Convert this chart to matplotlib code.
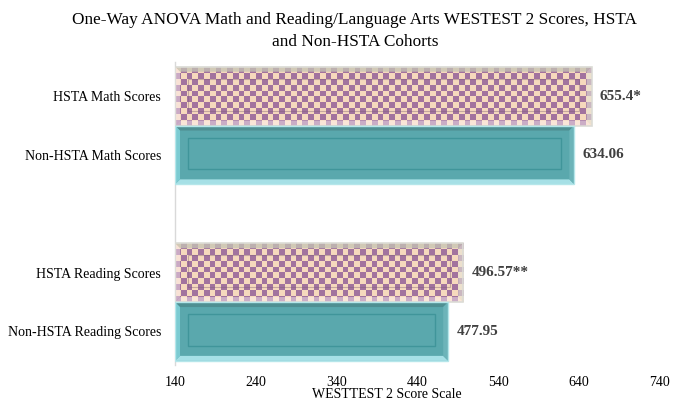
import numpy as np
import matplotlib
matplotlib.use("Agg")
import matplotlib.pyplot as plt
from matplotlib.colors import ListedColormap
from matplotlib.patches import Rectangle, Polygon

categories = ["HSTA Math Scores", "Non-HSTA Math Scores", "HSTA Reading Scores", "Non-HSTA Reading Scores"]
values = [655.4, 634.06, 496.57, 477.95]
value_labels = ["655.4*", "634.06", "496.57**", "477.95"]
is_hsta = [True, False, True, False]
positions = [0, 1, 3, 4]
xticks = [140, 240, 340, 440, 540, 640, 740]

title = "One-Way ANOVA Math and Reading/Language Arts WESTEST 2 Scores, HSTA\nand Non-HSTA Cohorts"
xlabel = "WESTTEST 2 Score Scale"

plt.rcParams['font.family'] = ['Liberation Serif', 'DejaVu Serif']

W, H = 673, 400
fig = plt.figure(figsize=(W / 100, H / 100), dpi=100)
ax = fig.add_axes([175 / W, 1 - 365 / H, (660 - 175) / W, (365 - 62) / H])

base = 140
xmin, xmax = 140, 740
ax.set_xlim(xmin, xmax)
ax.set_ylim(4.57, -0.58)

peach = "#f6d9bd"
purple = "#a2739e"
teal = "#5aa8ad"

bars = ax.barh(positions, [v - base for v in values], left=base, height=1.0,
               color=[peach if h else teal for h in is_hsta],
               edgecolor='none', linewidth=0, zorder=2)

fig.canvas.draw()


def bevel(x0, y0, w, hh, px, py, b, colors, alphas, z):
    bx, by = b * px, b * py
    x1, y1 = x0 + w, y0 + hh
    polys = {
        'top': [(x0, y0), (x1, y0), (x1 - bx, y0 + by), (x0 + bx, y0 + by)],
        'bottom': [(x0, y1), (x1, y1), (x1 - bx, y1 - by), (x0 + bx, y1 - by)],
        'left': [(x0, y0), (x0 + bx, y0 + by), (x0 + bx, y1 - by), (x0, y1)],
        'right': [(x1, y0), (x1 - bx, y0 + by), (x1 - bx, y1 - by), (x1, y1)],
    }
    for k, pts in polys.items():
        ax.add_patch(Polygon(pts, closed=True, facecolor=colors[k], edgecolor='none',
                             alpha=alphas[k], zorder=z))


cell = 5.8
for patch, h in zip(bars.patches, is_hsta):
    x0, y0 = patch.get_x(), patch.get_y()
    w, hh = patch.get_width(), patch.get_height()
    p0 = ax.transData.transform((x0, y0))
    p1 = ax.transData.transform((x0 + w, y0 + hh))
    wpx, hpx = abs(p1[0] - p0[0]), abs(p1[1] - p0[1])
    px, py = w / wpx, hh / hpx
    if h:
        nx = max(1, int(round(wpx / cell)))
        ny = max(1, int(round(hpx / cell)))
        board = (np.indices((ny, nx)).sum(axis=0) % 2)
        im = ax.imshow(board, cmap=ListedColormap([peach, purple]),
                       extent=(x0, x0 + w, y0 + hh, y0), aspect='auto',
                       interpolation='nearest', zorder=2.5)
        im.set_clip_path(patch)
        bevel(x0, y0, w, hh, px, py, 5,
              {'top': '#c5c4b4', 'bottom': '#fff4f8', 'left': '#fbeef4', 'right': '#e6e5d8'},
              {'top': 0.75, 'bottom': 0.45, 'left': 0.45, 'right': 0.6}, 3)
        ax.add_patch(Rectangle((x0, y0), w, hh, fill=False, edgecolor="#dcdcd6",
                               linewidth=1.2, zorder=3.2))
        ax.add_patch(Rectangle((x0 + 13 * px, y0 + 12 * py), w - 26 * px, hh - 27 * py,
                               fill=False, edgecolor="#7b5a74", linewidth=0.8, alpha=0.4,
                               zorder=3))
    else:
        bevel(x0, y0, w, hh, px, py, 5,
              {'top': '#4f8f92', 'bottom': '#a6e0e6', 'left': '#7ccbd2', 'right': '#6cb4b9'},
              {'top': 1, 'bottom': 1, 'left': 1, 'right': 1}, 3)
        ax.add_patch(Rectangle((x0, y0), w, hh, fill=False, edgecolor="#b5e6ea",
                               linewidth=1.0, zorder=3.2))
        ax.add_patch(Rectangle((x0 + 13 * px, y0 + 12 * py), w - 26 * px, hh - 27 * py,
                               fill=False, edgecolor="#40959a", linewidth=1.0, zorder=3))

ax.set_xlim(xmin, xmax)
ax.set_ylim(4.57, -0.58)

for p, v, lab in zip(positions, values, value_labels):
    ax.annotate(lab, xy=(v, p), xytext=(6, 0), textcoords='offset points',
                ha='left', va='center', fontsize=11, fontweight='bold', color='#404040')

ax.set_yticks(positions)
ax.set_yticklabels(categories, fontsize=10)
ax.set_xticks(xticks)
ax.set_xticklabels([str(t) for t in xticks], fontsize=10)
ax.tick_params(axis='both', length=0)
ax.tick_params(axis='x', pad=8)
ax.tick_params(axis='y', pad=10)
for s in ['top', 'right', 'bottom']:
    ax.spines[s].set_visible(False)
ax.spines['left'].set_color('#d9d9d9')
ax.spines['left'].set_linewidth(1.0)

fig.text(355 / W, 1 - 31 / H, title, ha='center', va='center', fontsize=12.4,
         linespacing=1.45)
fig.text(387 / W, 1 - 398 / H, xlabel, ha='center', va='baseline', fontsize=10)

fig.savefig("out.png", dpi=100)
